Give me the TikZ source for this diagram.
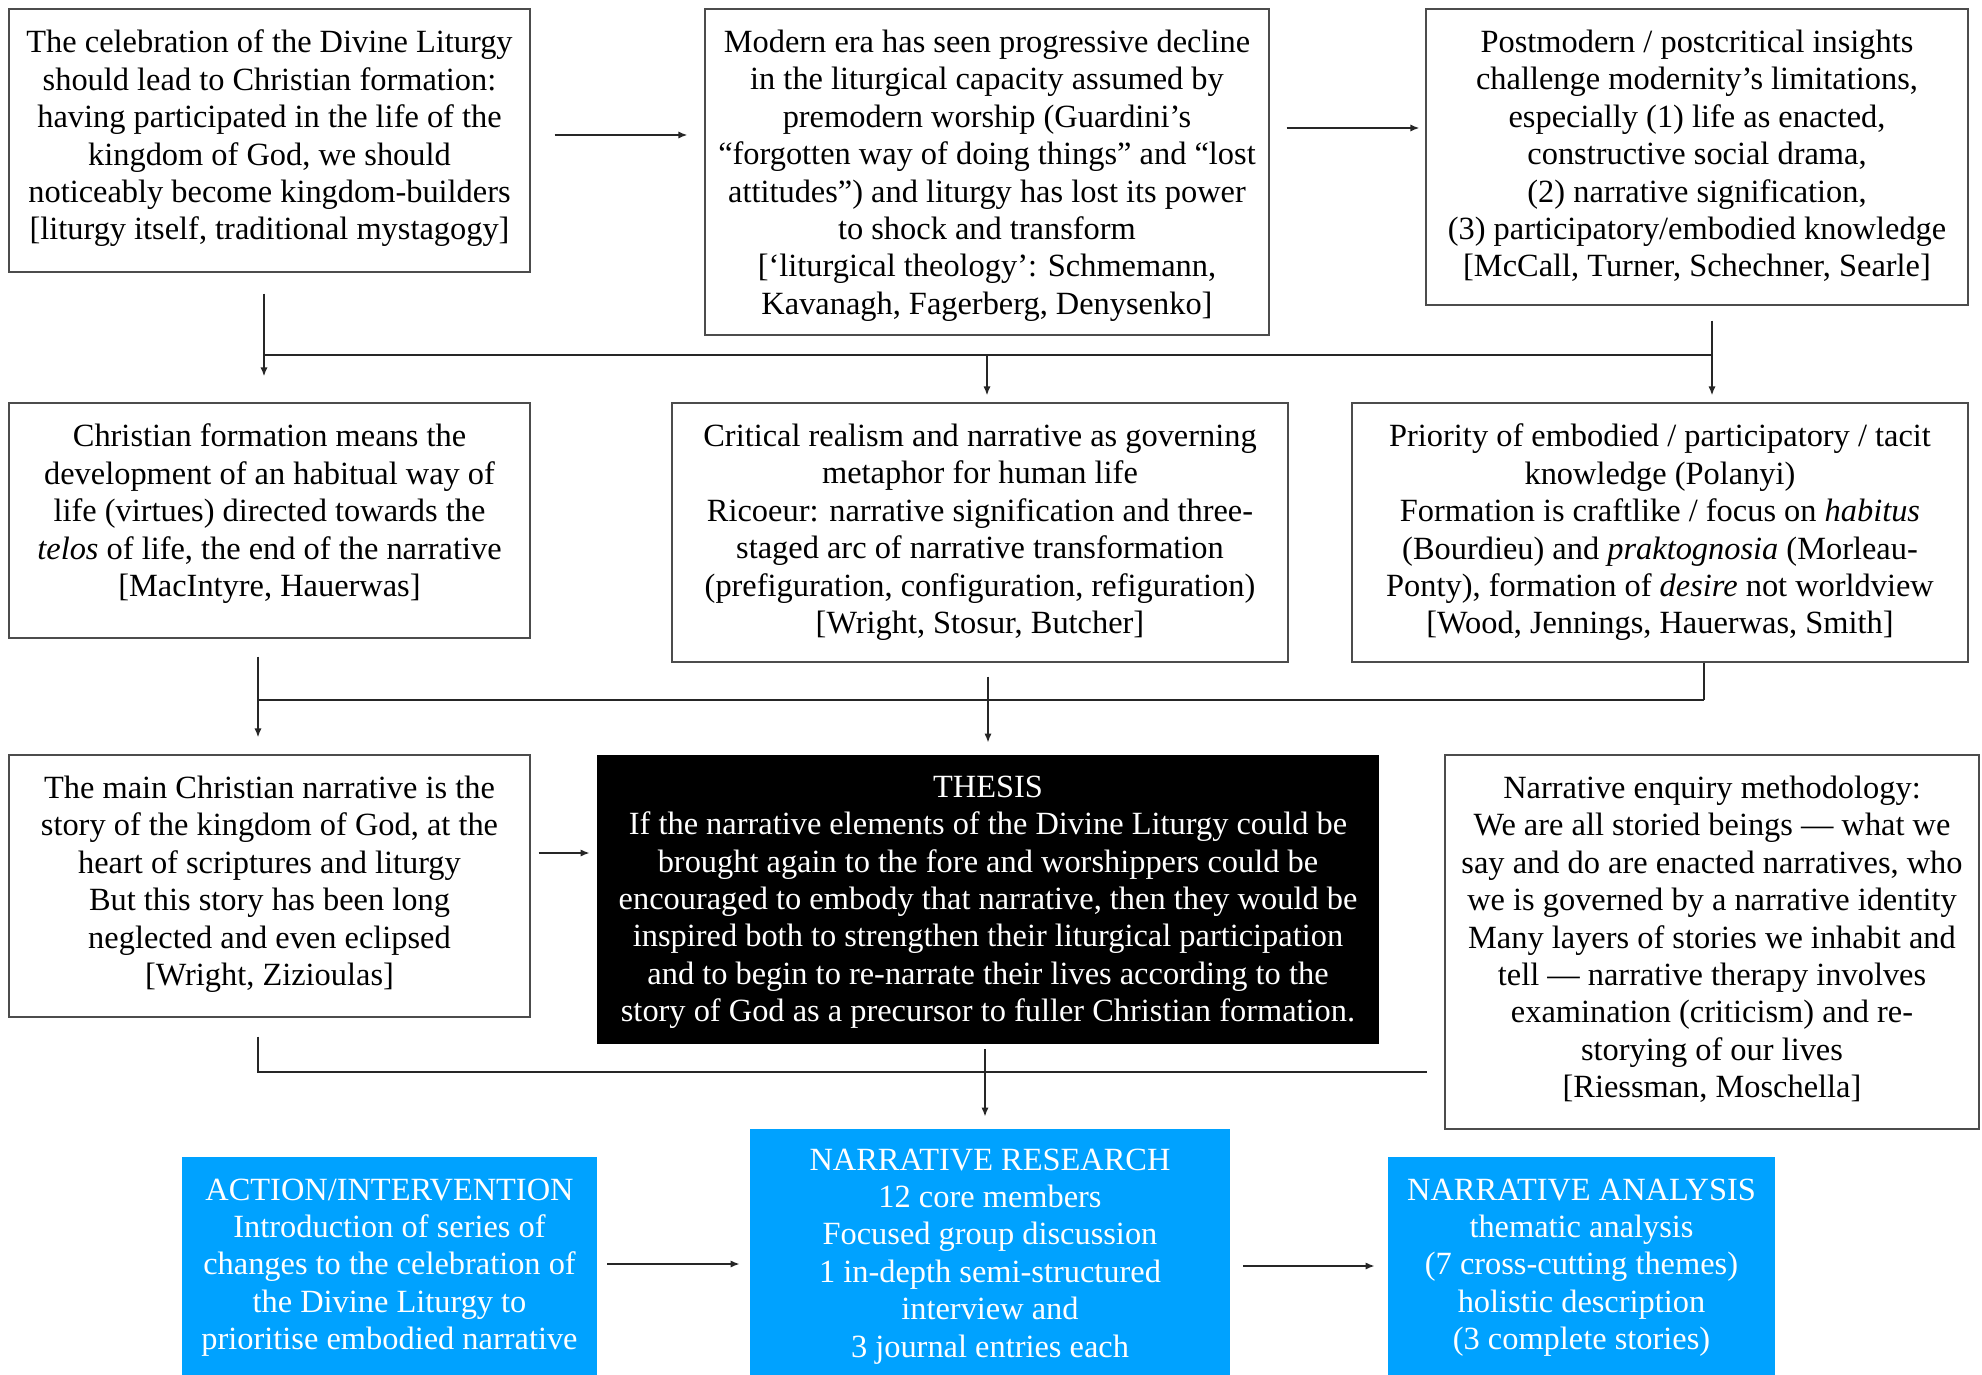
\documentclass[tikz,border=0pt]{standalone}
\usepackage{fontspec}
\setmainfont{Liberation Serif}
\usetikzlibrary{arrows.meta}
\definecolor{bluebox}{RGB}{0,162,255}
\tikzset{
  box/.style={draw=black!70, line width=0.6pt, rectangle, inner sep=0pt},
  blackbox/.style={fill=black, rectangle, inner sep=0pt},
  bluefill/.style={fill=bluebox, rectangle, inner sep=0pt},
  txt/.style={align=center, inner sep=0pt, anchor=north, font=\fontsize{16.2pt}{18.7pt}\selectfont},
  wtxt/.style={txt, text=white},
  line/.style={draw=black!85, line width=0.8pt},
  arr/.style={line, -{Latex[length=4.5pt,width=3.6pt]}},
}
\begin{document}
\begin{tikzpicture}[x=0.5pt,y=-0.5pt]
\useasboundingbox (0,0) rectangle (1982,1375);
% boxes
\node[box, minimum width=260.5pt, minimum height=131.5pt] (A) at (269.5,140.5) {};
\node[box, minimum width=282pt, minimum height=163pt] (B) at (987,172) {};
\node[box, minimum width=271pt, minimum height=148pt] (C) at (1697,157) {};
\node[box, minimum width=260.5pt, minimum height=117.5pt] (D) at (269.5,520.5) {};
\node[box, minimum width=308pt, minimum height=129.5pt] (E) at (980,532.5) {};
\node[box, minimum width=308pt, minimum height=129.5pt] (F) at (1660,532.5) {};
\node[box, minimum width=260.5pt, minimum height=131pt] (G) at (269.5,886) {};
\node[blackbox, minimum width=391pt, minimum height=144.5pt] (H) at (988,899.5) {};
\node[box, minimum width=267pt, minimum height=187pt] (I) at (1712,942) {};
\node[bluefill, minimum width=207.5pt, minimum height=109pt] (J) at (389.5,1266) {};
\node[bluefill, minimum width=240pt, minimum height=123pt] (K) at (990,1252) {};
\node[bluefill, minimum width=193.5pt, minimum height=109pt] (L) at (1581.5,1266) {};
% texts
\node[txt] (At) at ([yshift=-10.6pt]A.north) {The celebration of the Divine Liturgy\\ should lead to Christian formation:\\ having participated in the life of the\\ kingdom of God, we should\\ noticeably become kingdom-builders\\ {[}liturgy itself, traditional mystagogy]};
\node[txt] (Bt) at ([yshift=-10.6pt]B.north) {Modern era has seen progressive decline\\ in the liturgical capacity assumed by\\ premodern worship (Guardini’s\\ “forgotten way of doing things” and “lost\\ attitudes”) and liturgy has lost its power\\ to shock and transform\\ {[}‘liturgical theology’: Schmemann,\\ Kavanagh, Fagerberg, Denysenko]};
\node[txt] (Ct) at ([yshift=-10.6pt]C.north) {Postmodern / postcritical insights\\ challenge modernity’s limitations,\\ especially (1) life as enacted,\\ constructive social drama,\\ (2) narrative signification,\\ (3) participatory/embodied knowledge\\ {[}McCall, Turner, Schechner, Searle]};
\node[txt] (Dt) at ([yshift=-10.6pt]D.north) {Christian formation means the\\ development of an habitual way of\\ life (virtues) directed towards the\\ \textit{telos} of life, the end of the narrative\\ {[}MacIntyre, Hauerwas]};
\node[txt] (Et) at ([yshift=-10.6pt]E.north) {Critical realism and narrative as governing\\ metaphor for human life\\ Ricoeur: narrative signification and three-\\ staged arc of narrative transformation\\ (prefiguration, configuration, refiguration)\\ {[}Wright, Stosur, Butcher]};
\node[txt] (Ft) at ([yshift=-10.6pt]F.north) {Priority of embodied / participatory / tacit\\ knowledge (Polanyi)\\ Formation is craftlike / focus on \textit{habitus}\\ (Bourdieu) and \textit{praktognosia} (Morleau-\\ Ponty), formation of \textit{desire} not worldview\\ {[}Wood, Jennings, Hauerwas, Smith]};
\node[txt] (Gt) at ([yshift=-10.6pt]G.north) {The main Christian narrative is the\\ story of the kingdom of God, at the\\ heart of scriptures and liturgy\\ But this story has been long\\ neglected and even eclipsed\\ {[}Wright, Zizioulas]};
\node[wtxt] (Ht) at ([yshift=-10.4pt]H.north) {THESIS\\ If the narrative elements of the Divine Liturgy could be\\ brought again to the fore and worshippers could be\\ encouraged to embody that narrative, then they would be\\ inspired both to strengthen their liturgical participation\\ and to begin to re-narrate their lives according to the\\ story of God as a precursor to fuller Christian formation.};
\node[txt] (It) at ([yshift=-10.6pt]I.north) {Narrative enquiry methodology:\\ We are all storied beings — what we\\ say and do are enacted narratives, who\\ we is governed by a narrative identity\\ Many layers of stories we inhabit and\\ tell — narrative therapy involves\\ examination (criticism) and re-\\ storying of our lives\\ {[}Riessman, Moschella]};
\node[wtxt] (Jt) at ([yshift=-10.8pt]J.north) {ACTION/INTERVENTION\\ Introduction of series of\\ changes to the celebration of\\ the Divine Liturgy to\\ prioritise embodied narrative};
\node[wtxt] (Kt) at ([yshift=-9.8pt]K.north) {NARRATIVE RESEARCH\\ 12 core members\\ Focused group discussion\\ 1 in-depth semi-structured\\ interview and\\ 3 journal entries each};
\node[wtxt] (Lt) at ([yshift=-10.8pt]L.north) {NARRATIVE ANALYSIS\\ thematic analysis\\ (7 cross-cutting themes)\\ holistic description\\ (3 complete stories)};
% top row arrows
\draw[arr, shorten <=12pt, shorten >=8.5pt] ([yshift=2.75pt]A.east) -- ([yshift=2.75pt]A.east -| B.west);
\draw[arr, shorten <=8.5pt, shorten >=3pt] ([yshift=22pt]B.east) -- ([yshift=22pt]B.east -| C.west);
% bus 1
\coordinate (b1L) at (264,355);
\coordinate (b1R) at (1712,355);
\draw[line] (b1L) -- (b1R);
\draw[arr, shorten <=10.5pt, shorten >=13pt] ([xshift=-2.75pt]A.south) -- ([xshift=-2.75pt]A.south |- D.north);
\draw[arr, shorten <=7.5pt, shorten >=3.5pt] ([xshift=7.5pt]C.south) -- ([xshift=7.5pt]C.south |- F.north);
\draw[arr, shorten >=3.5pt] (b1L -| B.south) -- (B.south |- E.north);
% bus 2
\coordinate (b2L) at (258,700);
\coordinate (b2R) at (1704,700);
\draw[line] (b2L) -- (b2R);
\draw[line] ([xshift=22pt]F.south) -- (b2R);
\draw[arr, shorten <=9pt, shorten >=8.5pt] ([xshift=-5.75pt]D.south) -- ([xshift=-5.75pt]D.south |- G.north);
\draw[arr, shorten <=7pt, shorten >=6pt] (E.south -| H.north) -- (H.north);
% row 3
\draw[arr, shorten <=4pt, shorten >=3.5pt] ([yshift=16.5pt]G.east) -- ([yshift=16.5pt]G.east -| H.west);
\coordinate (b3R) at (1427,1072);
\draw[line, shorten <=9.5pt] ([xshift=-5.75pt]G.south) |- (b3R);
\draw[arr, shorten <=2.5pt, shorten >=6pt] ([xshift=-1.5pt]H.south) -- ([xshift=-1.5pt]H.south |- K.north);
% bottom row
\draw[arr, shorten <=5pt, shorten >=5pt] ([yshift=1pt]J.east) -- ([yshift=1pt]J.east -| K.west);
\draw[arr, shorten <=6.5pt, shorten >=6.5pt] (K.east |- L.east) -- (L.west);
\end{tikzpicture}
\end{document}
